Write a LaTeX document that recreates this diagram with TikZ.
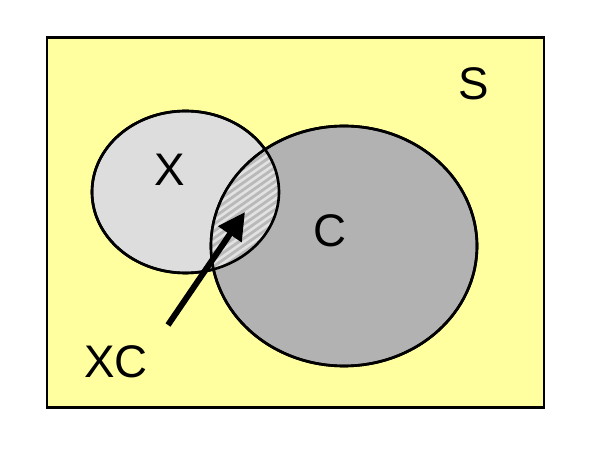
\documentclass[tikz,border=0pt]{standalone}
\usepackage{fontspec}
\setmainfont{Liberation Sans}
\usetikzlibrary{arrows.meta,shapes.geometric}
\definecolor{bgyellow}{RGB}{255,255,160}
\definecolor{xgray}{RGB}{221,221,221}
\definecolor{cgray}{RGB}{178,178,178}
\definecolor{hatchbg}{RGB}{226,226,226}
\definecolor{hatchline}{RGB}{185,185,185}
\tikzset{
  setshape/.style={ellipse, draw=black, line width=1.5pt, inner sep=0pt},
  lbl/.style={font=\fontsize{26}{30}\selectfont, inner sep=0pt},
  pointer/.style={line width=3.4pt, -{Triangle[length=0.54cm,width=0.54cm]}}
}
\begin{document}
\begin{tikzpicture}[x=0.02cm,y=-0.02cm]
\useasboundingbox (0,0) rectangle (600,449);
\node[draw=black, line width=1.2pt, fill=bgyellow, minimum width=497*0.02cm, minimum height=370*0.02cm, inner sep=0pt, anchor=north west] (S) at (46,36.5) {};
\node[setshape, fill=xgray, minimum width=187*0.02cm, minimum height=162*0.02cm] (X) at (185.5,192) {};
\node[setshape, fill=cgray, minimum width=266*0.02cm, minimum height=240*0.02cm] (C) at (344,246) {};
% intersection hatching
\begin{scope}
  \clip (185.5,192) ellipse [x radius=93.5, y radius=81];
  \clip (344,246) ellipse [x radius=133, y radius=120];
  \fill[hatchbg] (150,100) rectangle (300,320);
  \foreach \k in {-50,...,50} {
    \draw[hatchline, line width=1.6pt] (150,{150+7*\k}) -- (350,{150+7*\k-140});
  }
\end{scope}
\draw[line width=1.5pt] (185.5,192) ellipse [x radius=93.5, y radius=81];
\draw[line width=1.5pt] (344,246) ellipse [x radius=133, y radius=120];
\node[lbl] (lx) at (170,170) {X};
\node[lbl] (lc) at (330,231) {C};
\node[lbl] (ls) at (474,84) {S};
\node[lbl] (lxc) at (116,362) {XC};
\coordinate (tail) at (168,325);
\coordinate (tip) at (245,212);
\draw[pointer] (tail) -- (tip);
\end{tikzpicture}
\end{document}
